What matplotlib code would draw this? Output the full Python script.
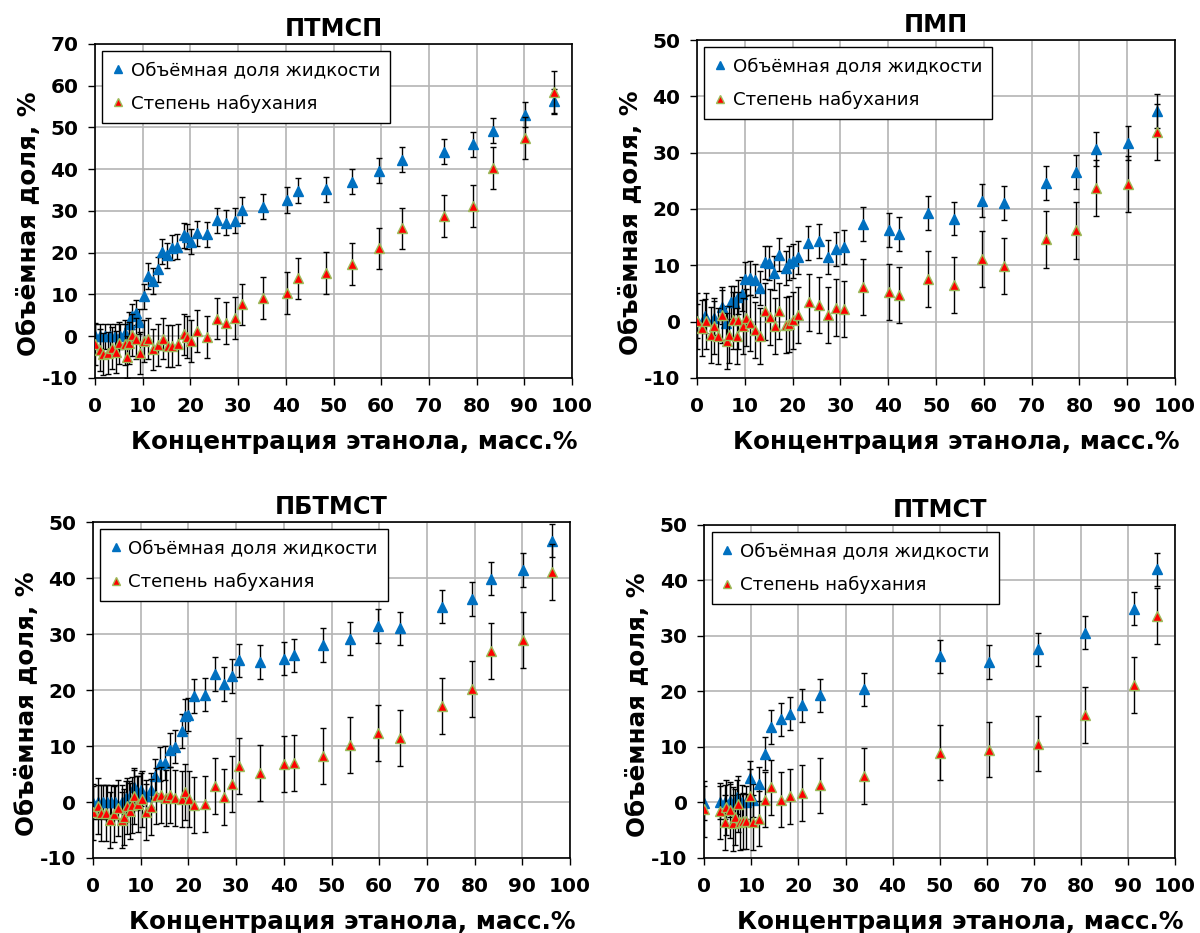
import matplotlib
matplotlib.use('Agg')
import matplotlib.pyplot as plt

plt.rcParams['axes.unicode_minus'] = False

# --- ПТМСП ---
x1_vol = [0, 1.05, 2.1, 3.2, 4.2, 5.3, 6.3, 7.2, 7.7, 8.6, 9.3, 10.2, 11.1, 12.1, 13.2, 14.0,
          15.1, 16.1, 17.2, 18.6, 19.3, 20.1, 21.3, 23.5, 25.5, 27.4, 29.3, 30.9, 35.2, 40.2,
          42.5, 48.4, 53.9, 59.6, 64.4, 73.2, 79.3, 83.4, 90.2, 96.2]
y1_vol = [0, 0, 0, 0, 0, 0, 0.8, 2.8, 4.8, 5.6, 3.4, 9.6, 14.4, 13.2, 16.0, 20.2,
          19.4, 21.2, 21.4, 24.2, 23.8, 22.6, 24.6, 24.4, 27.8, 27.2, 27.6, 30.2, 31.0, 32.6,
          34.8, 35.2, 37.0, 39.6, 42.2, 44.2, 46.0, 49.2, 53.0, 56.2]
x1_sw = [0, 1.05, 1.75, 2.8, 3.5, 4.4, 5.1, 6.2, 6.7, 7.2, 7.7, 8.6, 9.5, 10.2, 11.2, 12.1,
         13.2, 14.2, 15.2, 16.1, 17.3, 18.6, 19.3, 20.1, 21.3, 23.5, 25.5, 27.4, 29.3, 30.9,
         35.2, 40.2, 42.5, 48.4, 53.9, 59.6, 64.4, 73.2, 79.3, 83.4, 90.2, 96.2]
y1_sw = [-1.8, -3.4, -4.2, -4.0, -2.8, -3.8, -1.6, -2.0, -5.0, -1.6, 0.2, -0.6, -4.0, -1.2, -0.6, -3.2,
         -2.2, -0.6, -2.4, -2.4, -2.0, 0.4, -0.2, -1.2, 1.2, -0.2, 4.2, 3.2, 4.4, 7.6,
         9.2, 10.4, 13.8, 15.2, 17.2, 21.0, 25.8, 28.8, 31.2, 40.2, 47.4, 58.4]

# --- ПМП ---
x2_vol = [0, 1.6, 3.5, 5.1, 6.0, 7.0, 7.7, 8.6, 9.3, 10.0, 11.0, 12.1, 13.1, 14.2, 15.1,
          16.1, 17.2, 18.6, 19.3, 20.1, 21.2, 23.3, 25.4, 27.3, 29.1, 30.8, 34.8, 40.1, 42.3,
          48.3, 53.8, 59.6, 64.3, 73.1, 79.3, 83.4, 90.1, 96.2]
y2_vol = [0.1, 1.0, 0.7, 2.6, -0.2, 3.4, 3.4, 4.4, 4.9, 7.6, 7.7, 7.3, 6.0, 10.5, 10.4,
          8.6, 11.9, 9.5, 10.4, 10.7, 11.4, 13.9, 14.3, 11.5, 12.9, 13.3, 17.4, 16.2, 15.6,
          19.3, 18.3, 21.5, 21.1, 24.6, 26.6, 30.6, 31.7, 37.4]
x2_sw = [0, 1.0, 1.8, 2.8, 3.6, 4.4, 5.1, 6.2, 6.6, 7.4, 8.3, 8.6, 9.5, 10.2, 11.0, 12.1,
         13.1, 14.2, 15.2, 16.2, 17.2, 18.6, 19.3, 20.1, 21.2, 23.5, 25.4, 27.3, 29.1, 30.8,
         34.8, 40.1, 42.3, 48.3, 53.8, 59.6, 64.3, 73.1, 79.3, 83.4, 90.1, 96.2]
y2_sw = [0.1, -1.1, 0.1, -2.4, -0.8, -2.6, 1.2, -3.5, -2.3, 0.2, -2.6, 0.2, -0.8, 0.7, -0.3, -1.5,
         -2.6, 1.8, 0.8, -0.8, 1.9, -0.6, -0.4, 0.2, 1.2, 3.4, 3.0, 1.2, 2.5, 2.2,
         6.1, 5.3, 4.7, 7.6, 6.5, 11.1, 9.9, 14.6, 16.2, 23.7, 24.4, 33.7]

# --- ПБТМСТ ---
x3_vol = [0, 1.0, 2.0, 2.9, 3.8, 4.7, 6.1, 7.0, 7.5, 8.6, 9.3, 10.1, 11.2, 12.1, 13.1, 14.1,
          15.1, 16.1, 17.1, 18.6, 19.2, 20.0, 21.1, 23.4, 25.5, 27.4, 29.2, 30.7, 35.0, 40.0,
          42.2, 48.3, 53.9, 59.7, 64.4, 73.2, 79.4, 83.5, 90.2, 96.2]
y3_vol = [-0.1, 0, 0, 0, 0, 0, 0, 0.8, 0.8, 2.7, 1.6, 2.2, 1.0, 2.1, 4.6, 6.8,
          7.0, 9.3, 9.9, 12.7, 15.4, 15.6, 18.9, 19.2, 22.9, 21.1, 22.5, 25.3, 25.0, 25.6,
          26.2, 28.0, 29.2, 31.4, 31.0, 34.9, 36.3, 39.9, 41.4, 46.7]
x3_sw = [0, 1.0, 1.7, 2.8, 3.6, 4.3, 5.2, 6.1, 6.6, 7.2, 7.8, 8.2, 8.7, 9.4, 10.3, 11.2,
         12.2, 13.3, 14.2, 15.2, 16.2, 17.2, 18.6, 19.3, 20.1, 21.1, 23.4, 25.5, 27.4, 29.2,
         30.7, 35.0, 40.0, 42.2, 48.3, 53.9, 59.7, 64.4, 73.2, 79.4, 83.5, 90.2, 96.2]
y3_sw = [-1.8, -0.8, -1.9, -2.0, -3.2, -2.2, -1.1, -3.2, -2.6, -0.8, -1.6, -0.6, 1.0, -0.4, 0.5, -1.7,
         -0.9, 1.0, 1.3, 0.7, 1.3, 0.7, 0.5, 1.8, 0.5, -0.6, -0.3, 2.9, 0.9, 3.3,
         6.4, 5.2, 6.8, 7.0, 8.2, 10.2, 12.3, 11.5, 17.1, 20.1, 27.0, 28.9, 41.0]

# --- ПТМСТ ---
x4_vol = [0, 3.4, 4.4, 5.4, 6.1, 6.9, 8.0, 8.9, 9.6, 10.3, 11.7, 12.9, 14.1, 16.2, 18.3,
          20.8, 24.6, 34.0, 50.1, 60.4, 70.9, 80.9, 91.3, 96.2]
y4_vol = [-0.1, 0, 0.1, 0.3, -0.2, 1.0, 0.1, 0, 4.4, 0.4, 3.3, 8.8, 13.6, 15.0, 16.0,
          17.5, 19.3, 20.4, 26.3, 25.3, 27.6, 30.6, 34.9, 42.0]
x4_sw = [0, 3.4, 4.3, 4.6, 5.4, 6.0, 6.5, 7.1, 7.6, 8.2, 8.9, 9.6, 10.3, 11.7, 12.9, 14.1,
         16.2, 18.3, 20.8, 24.6, 34.0, 50.1, 60.4, 70.9, 80.9, 91.3, 96.2]
y4_sw = [-1.2, -1.5, -3.6, -0.9, -1.4, -3.7, -2.6, -0.3, -3.5, -3.3, -3.4, 1.1, -3.6, -2.9, 0.5, 2.7,
         0.5, 1.1, 1.7, 3.1, 4.8, 9.0, 9.5, 10.6, 15.8, 21.2, 33.6]

err_vol = 3
err_sw = 5

titles = ['ПТМСП', 'ПМП', 'ПБТМСТ', 'ПТМСТ']
ymax = [70, 50, 50, 50]
label_vol = 'Объёмная доля жидкости'
label_sw = 'Степень набухания'
xlabel = 'Концентрация этанола, масс.%'
ylabel = 'Объёмная доля, %'

panels = [
    (x1_vol, y1_vol, x1_sw, y1_sw),
    (x2_vol, y2_vol, x2_sw, y2_sw),
    (x3_vol, y3_vol, x3_sw, y3_sw),
    (x4_vol, y4_vol, x4_sw, y4_sw),
]
# axes rectangles in figure fractions
rects = [
    [0.0792, 0.595, 0.3975, 0.358],
    [0.581, 0.595, 0.398, 0.362],
    [0.0775, 0.0804, 0.3975, 0.360],
    [0.587, 0.0804, 0.392, 0.357],
]

fig = plt.figure(figsize=(12, 9.33), dpi=100)

for i, (xv, yv, xs, ys) in enumerate(panels):
    ax = fig.add_axes(rects[i])
    ax.set_axisbelow(True)
    ax.grid(True, color='#b4b4b4', linewidth=1.2)
    ax.errorbar(xv, yv, yerr=err_vol, fmt='^', color='#0070C0', markersize=7,
                markeredgecolor='#0070C0', ecolor='black', elinewidth=1, capsize=2.5,
                capthick=1, label=label_vol, zorder=3)
    ax.errorbar(xs, ys, yerr=err_sw, fmt='^', color='#FF0000', markersize=7,
                markeredgecolor='#9BBB59', markeredgewidth=1, ecolor='black',
                elinewidth=1, capsize=2.5, capthick=1, label=label_sw, zorder=4)
    ax.set_xlim(0, 100)
    ax.set_ylim(-10, ymax[i])
    ax.set_xticks(range(0, 101, 10))
    ax.set_yticks(range(-10, ymax[i] + 1, 10))
    ax.tick_params(direction='out', length=5, width=1, labelsize=14.5)
    ax.tick_params(axis='x', pad=9)
    ax.tick_params(axis='y', pad=7)
    for lab in ax.get_xticklabels() + ax.get_yticklabels():
        lab.set_fontweight('bold')
    for sp in ax.spines.values():
        sp.set_color('black')
        sp.set_linewidth(1.2)
    ax.set_title(titles[i], fontsize=17.3, fontweight='bold', pad=6)
    ax.set_xlabel(xlabel, fontsize=17.7, fontweight='bold', labelpad=10, x=0.543)
    ax.set_ylabel(ylabel, fontsize=17.7, fontweight='bold', labelpad=1, y=0.46)

    handles, labels = ax.get_legend_handles_labels()
    handles = [h[0] for h in handles]
    leg = ax.legend(handles, labels, loc='upper left', fontsize=13.1, markerscale=0.8,
                    fancybox=False, framealpha=1, edgecolor='black',
                    borderaxespad=0.4, handlelength=0.6, handletextpad=0.4,
                    labelspacing=0.85, borderpad=0.55)
    leg.get_frame().set_linewidth(1)

fig.savefig('out.png', dpi=100)
